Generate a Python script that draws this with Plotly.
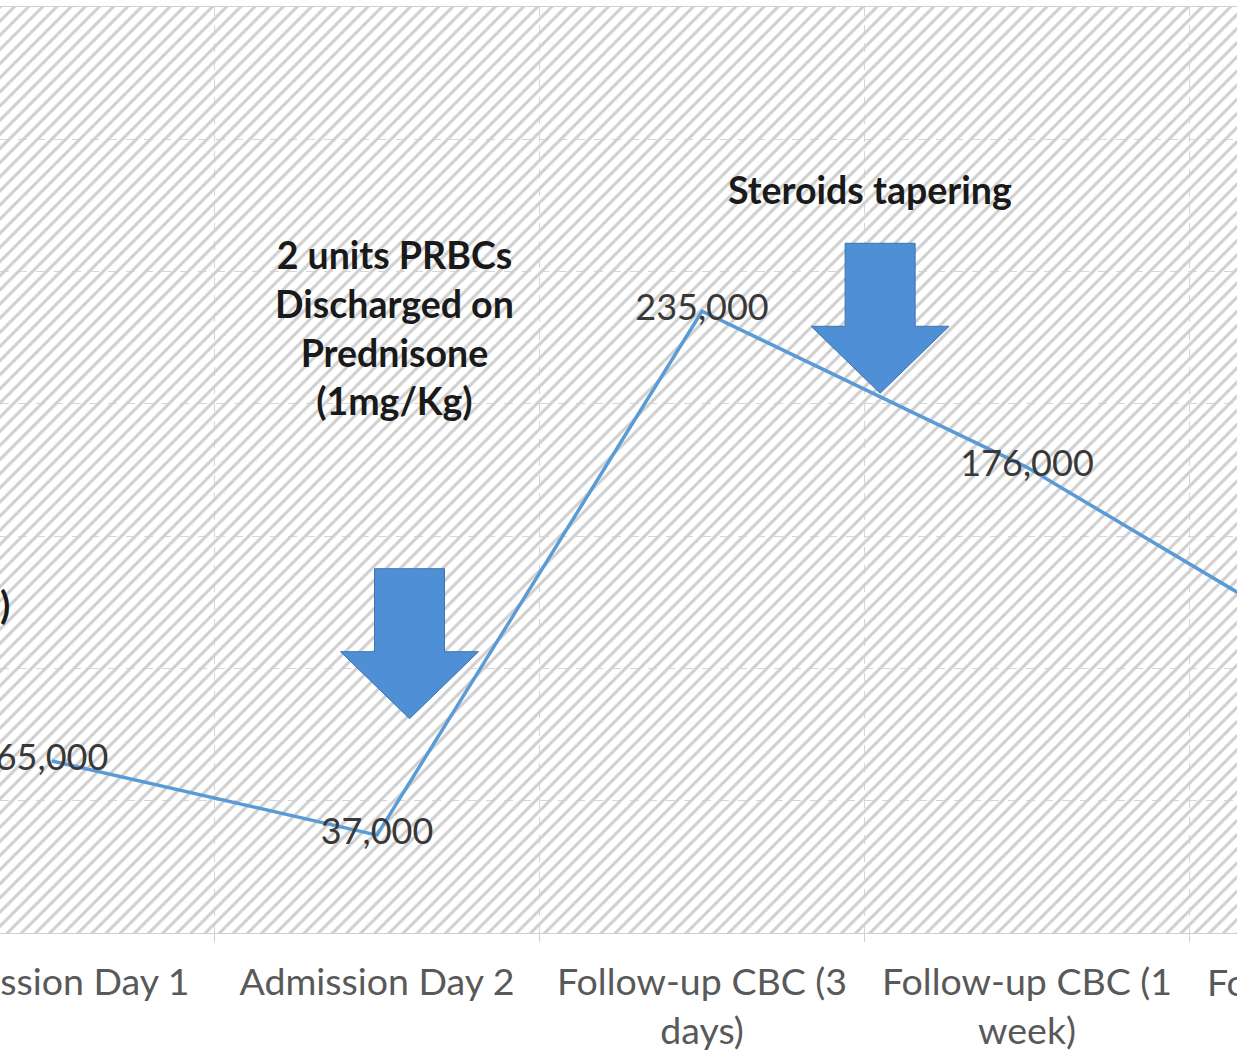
import plotly.graph_objects as go

# ---------------- data ----------------
categories = [
    "Admission Day 1",
    "Admission Day 2",
    "Follow-up CBC (3<br>days)",
    "Follow-up CBC (1<br>week)",
    "Follow-up CBC (2<br>weeks)",
]
platelets = [65000, 37000, 235000, 176000, 103000]
point_labels = ["65,000", "37,000", "235,000", "176,000", "103,000"]

note_texts = ["2 units PRBCs<br>Discharged on<br>Prednisone<br>(1mg/Kg)", "Steroids tapering"]
note_x = [1.055, 2.517]
note_y = [229000, 281000]

arrow_tip_x = [1.10, 2.548]
arrow_tip_y = [81000, 204000]

# ---------------- layout constants ----------------
W, H = 1237, 1057
M_L, M_R, M_T, M_B = 0, 0, 7, 124
PW, PH = W - M_L - M_R, H - M_T - M_B
X_RANGE = [-0.16, 3.646]
Y_RANGE = [0, 350000]

FONT = "Lato, 'Open Sans', sans-serif"
LINE_COLOR = "#5b9bd5"
ARROW_FILL = "#4f8fd6"
ARROW_EDGE = "#3d74b0"


def xp(xi):
    return (xi - X_RANGE[0]) / (X_RANGE[1] - X_RANGE[0])


def yp(yv):
    return (yv - Y_RANGE[0]) / (Y_RANGE[1] - Y_RANGE[0])


fig = go.Figure()

# hatched plot background drawn as a patterned bar spanning the value range
fig.add_trace(go.Bar(
    x=categories,
    y=[Y_RANGE[1]] * len(categories),
    width=1,
    marker=dict(
        color="#cfcfcf",
        line=dict(width=0),
        pattern=dict(shape="/", size=10, solidity=0.3, fillmode="replace"),
    ),
    hoverinfo="skip",
    showlegend=False,
))

fig.add_trace(go.Scatter(
    x=categories,
    y=platelets,
    mode="lines+text",
    text=point_labels,
    textposition="middle center",
    textfont=dict(family=FONT, size=36, color="#383838"),
    line=dict(color=LINE_COLOR, width=3.5),
    showlegend=False,
))

shapes = []
SHAFT_HW, HEAD_HW, HEAD_H, TOTAL_H = 35, 69, 67, 150
for tx, ty in zip(arrow_tip_x, arrow_tip_y):
    px0 = xp(tx)
    py0 = yp(ty)
    dx = lambda p: p / PW
    dy = lambda p: p / PH
    pts = [
        (px0 - dx(SHAFT_HW), py0 + dy(TOTAL_H)),
        (px0 + dx(SHAFT_HW), py0 + dy(TOTAL_H)),
        (px0 + dx(SHAFT_HW), py0 + dy(HEAD_H)),
        (px0 + dx(HEAD_HW), py0 + dy(HEAD_H)),
        (px0, py0),
        (px0 - dx(HEAD_HW), py0 + dy(HEAD_H)),
        (px0 - dx(SHAFT_HW), py0 + dy(HEAD_H)),
    ]
    path = "M " + " L ".join(f"{a:.5f},{b:.5f}" for a, b in pts) + " Z"
    shapes.append(dict(type="path", xref="paper", yref="paper", path=path,
                       fillcolor=ARROW_FILL, line=dict(color=ARROW_EDGE, width=1)))

annotations = []
for t, ax_, ay_ in zip(note_texts, note_x, note_y):
    annotations.append(dict(
        x=xp(ax_), y=yp(ay_), xref="paper", yref="paper", text=t, showarrow=False,
        font=dict(family=FONT, size=37.5, color="#1a1a1a", weight="bold"),
        xanchor="center", yanchor="middle", align="center",
    ))

# partially visible note at the left edge
annotations.append(dict(
    x=12 / PW, y=yp(124000), xref="paper", yref="paper", text=")", showarrow=False,
    font=dict(family=FONT, size=37.5, color="#1a1a1a", weight="bold"),
    xanchor="right", yanchor="middle",
))

# category label that lies beyond the visible range
annotations.append(dict(
    x=xp(4), y=0, xref="paper", yref="paper", text=categories[4], showarrow=False,
    font=dict(family=FONT, size=37.5, color="#595959"),
    xanchor="center", yanchor="top", yshift=-24, align="center",
))

fig.update_layout(
    width=W, height=H,
    margin=dict(l=M_L, r=M_R, t=M_T, b=M_B, pad=0),
    paper_bgcolor="white",
    plot_bgcolor="white",
    bargap=0,
    shapes=shapes,
    annotations=annotations,
    xaxis=dict(
        type="category",
        range=X_RANGE,
        tickson="boundaries",
        ticks="outside", ticklen=8, tickcolor="#d0d0d0",
        ticklabelstandoff=16,
        showgrid=True, gridcolor="#d6d6d6", griddash="dash", gridwidth=1,
        showline=True, linecolor="#d0d0d0", mirror=True,
        tickfont=dict(family=FONT, size=37.5, color="#595959"),
        automargin=False,
    ),
    yaxis=dict(
        range=Y_RANGE,
        dtick=50000,
        showticklabels=False,
        showgrid=True, gridcolor="#d6d6d6", griddash="dash", gridwidth=1,
        zeroline=False,
        automargin=False,
    ),
)

fig.write_html(
    "out.html",
    config={"displayModeBar": False},
    post_script="document.body.style.margin='0';",
)
